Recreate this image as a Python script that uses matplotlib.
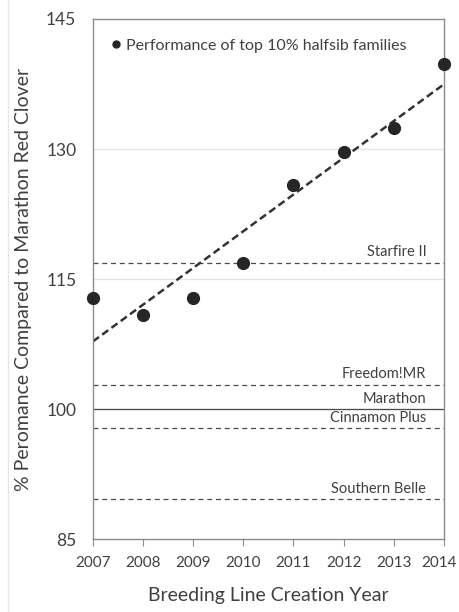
import matplotlib
matplotlib.use('Agg')
import matplotlib.pyplot as plt
import matplotlib.transforms as mtransforms
from matplotlib.lines import Line2D
import numpy as np

years = [2007, 2008, 2009, 2010, 2011, 2012, 2013, 2014]
performance = [112.8, 110.9, 112.8, 116.9, 125.9, 129.6, 132.4, 139.8]

check_names = ['Starfire II', 'Freedom!MR', 'Marathon', 'Cinnamon Plus', 'Southern Belle']
check_values = [116.9, 102.8, 100.0, 97.8, 89.6]
check_styles = ['--', '--', '-', '--', '--']

y_ticks = [85, 100, 115, 130, 145]

plt.rcParams['font.family'] = ['Lato', 'DejaVu Sans']
text_color = '#404040'
spine_color = '#8c8c8c'

fig = plt.figure(figsize=(4.6, 6.12), dpi=100)
ax = fig.add_axes([0.202, 0.119, 0.763, 0.850])

for yv in y_ticks[1:-1]:
    ax.axhline(yv, color='#e3e3e3', linewidth=0.9, zorder=0)

for name, val, style in zip(check_names, check_values, check_styles):
    ax.axhline(val, color='#4a4a4a', linewidth=0.9, linestyle=style,
               dashes=(4, 3) if style == '--' else (None, None), zorder=1)
    ax.text(2013.65, val + 1.2, name, ha='right', va='center', fontsize=10.5,
            color=text_color)

# linear trend through the family means
coef = np.polyfit(years, performance, 1)
ax.plot([years[0], years[-1]], np.polyval(coef, [years[0], years[-1]]),
        color='#333333', linewidth=1.8, linestyle=(0, (3, 1.6)), zorder=2)

ax.plot(years, performance, 'o', color='#262626', markersize=8.5,
        clip_on=False, zorder=3)

leg_marker = Line2D([], [], marker='o', color='#262626', linestyle='none', markersize=5)
ax.legend([leg_marker], ['Performance of top 10% halfsib families'],
          loc='upper left', bbox_to_anchor=(0.0, 0.99), frameon=False,
          fontsize=11.5, handletextpad=0.1, handlelength=1.1, labelcolor=text_color)

ax.set_xlim(2007, 2014)
ax.set_ylim(85, 145)
ax.set_xticks(years)
ax.set_yticks(y_ticks)
ax.tick_params(axis='x', direction='out', length=5, color=spine_color,
               labelsize=11, labelcolor=text_color, pad=7)
ax.tick_params(axis='y', length=0, labelsize=12.5, labelcolor=text_color, pad=12)
for s in ax.spines.values():
    s.set_color(spine_color)
    s.set_linewidth(1.0)

# nudge the last year label so it stays inside the figure
last = ax.get_xticklabels()[-1]
last.set_transform(last.get_transform() +
                   mtransforms.ScaledTranslation(-5 / 100, 0, fig.dpi_scale_trans))

ax.set_xlabel('Breeding Line Creation Year', fontsize=14, color=text_color, labelpad=12)
ax.set_ylabel('% Peromance Compared to Marathon Red Clover', fontsize=14,
              color=text_color, labelpad=10)

fig.add_artist(Line2D([8 / 460, 8 / 460], [0, 1], color='#e6e6e6', linewidth=1))

fig.savefig('out.png', dpi=100)
